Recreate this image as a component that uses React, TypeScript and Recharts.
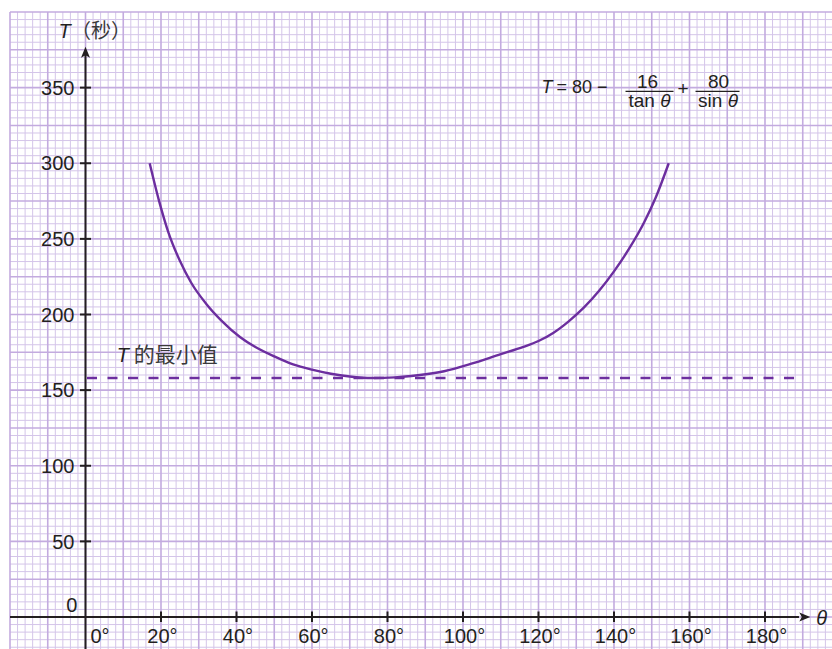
import { ComposedChart, Line, XAxis, YAxis, CartesianGrid, ReferenceLine, ReferenceDot } from "recharts";

// θ (degrees) and T (seconds)
const THETA = [17, 19.5, 22, 25, 28, 32, 36, 41, 45, 50, 55, 60, 65, 70, 76, 82, 88, 95, 102, 110, 116, 120, 124, 128, 132, 136, 140, 144, 148, 151, 154.5];
const T_VALUES = [300, 275, 254, 235.5, 221, 207, 196, 185, 178.5, 172.3, 167, 163.5, 160.8, 159, 158, 158.4, 159.8, 162.5, 167.3, 173.8, 178.6, 182.5, 188, 195.5, 204.5, 215.5, 228.5, 243.5, 261, 277, 300];
const T_MIN = 158;

const X_TICKS = [20, 40, 60, 80, 100, 120, 140, 160, 180];
const Y_TICKS = [50, 100, 150, 200, 250, 300, 350];

const X_DOMAIN: [number, number] = [-20, 197.75];
const Y_DOMAIN: [number, number] = [-21.16, 400];

const W = 832;
const H = 649;

const INK = "#231f20";
const PURPLE = "#6c2e9f";
const FONT = '"Liberation Sans", Arial, Helvetica, sans-serif';
const CJK = '"Noto Sans CJK TC", "Noto Sans CJK SC", sans-serif';

const range = (a: number, b: number, step: number) => {
  const out: number[] = [];
  for (let v = a; v <= b + 1e-9; v += step) out.push(v);
  return out;
};

const MINOR_X = range(-20, 196, 2).filter((v) => v % 10 !== 0);
const MAJOR_X = range(-20, 190, 10);
const MINOR_Y = range(-20, 400, 5).filter((v) => v % 25 !== 0);
const MAJOR_Y = range(0, 400, 25);

const data = THETA.map((theta, i) => ({ theta, T: T_VALUES[i] }));

const toX = (props: any, v: number) => {
  const s = props?.xAxis?.scale;
  if (typeof s === "function") {
    const r = s(v);
    if (Number.isFinite(r)) return r;
  }
  const o = props.offset;
  return o.left + ((v - X_DOMAIN[0]) / (X_DOMAIN[1] - X_DOMAIN[0])) * o.width;
};

const toY = (props: any, v: number) => {
  const s = props?.yAxis?.scale;
  if (typeof s === "function") {
    const r = s(v);
    if (Number.isFinite(r)) return r;
  }
  const o = props.offset;
  return o.top + ((Y_DOMAIN[1] - v) / (Y_DOMAIN[1] - Y_DOMAIN[0])) * o.height;
};

function YTick({ cx, cy, value }: any) {
  return (
    <g>
      <line x1={cx - 5.5} x2={cx + 5.5} y1={cy} y2={cy} stroke={INK} strokeWidth={2} />
      <text x={cx - 11} y={cy + 7.2} textAnchor="end" fontFamily={FONT} fontSize={20} fill={INK}>
        {value}
      </text>
    </g>
  );
}

function XTick({ cx, cy, value }: any) {
  return (
    <g>
      <line x1={cx} x2={cx} y1={cy - 5.5} y2={cy + 5} stroke={INK} strokeWidth={2} />
      <text x={cx + 1.5} y={cy + 26} textAnchor="middle" fontFamily={FONT} fontSize={20} fill={INK}>
        {value}°
      </text>
    </g>
  );
}

function Origin({ cx, cy }: any) {
  return (
    <g fontFamily={FONT} fontSize={20} fill={INK}>
      <text x={cx - 8} y={cy - 5} textAnchor="end">0</text>
      <text x={cx + 5} y={cy + 26}>0°</text>
    </g>
  );
}

function UpArrow({ cx, cy }: any) {
  return (
    <g>
      <path d={`M${cx},${cy} L${cx + 4.5},${cy + 11} L${cx},${cy + 8.5} L${cx - 4.5},${cy + 11} Z`} fill={INK} />
      <text x={cx - 27} y={cy - 9} fontFamily={FONT} fontStyle="italic" fontSize={20} fill={INK}>T</text>
      <text x={cx - 14.5} y={cy - 9} fontFamily={CJK} fontSize={20} fill="#3a3a3a">（秒）</text>
    </g>
  );
}

function RightArrow({ cx, cy }: any) {
  return (
    <g>
      <path d={`M${cx},${cy} L${cx - 11},${cy - 4.5} L${cx - 8.5},${cy} L${cx - 11},${cy + 4.5} Z`} fill={INK} />
      <text x={cx + 6} y={cy + 8} fontFamily={FONT} fontStyle="italic" fontSize={20} fill={INK}>θ</text>
    </g>
  );
}

function MinLabel({ cx, cy }: any) {
  return (
    <g>
      <text x={cx} y={cy} fontFamily={FONT} fontStyle="italic" fontSize={20} fill={INK}>T</text>
      <text x={cx + 17} y={cy} fontFamily={CJK} fontSize={21} fill="#3a3a3a">的最小值</text>
    </g>
  );
}

function Formula({ cx, cy }: any) {
  const f = { fontFamily: FONT, fill: INK };
  return (
    <g>
      <text x={cx} y={cy} {...f} fontSize={18} fontStyle="italic">T</text>
      <text x={cx + 15} y={cy} {...f} fontSize={18}>= 80 −</text>
      <line x1={cx + 84} x2={cx + 132} y1={cy - 2} y2={cy - 2} stroke={INK} strokeWidth={1.3} />
      <text x={cx + 106} y={cy - 5.5} {...f} fontSize={19} textAnchor="middle">16</text>
      <text x={cx + 108} y={cy + 13.5} {...f} fontSize={19} textAnchor="middle">
        tan <tspan fontStyle="italic">θ</tspan>
      </text>
      <text x={cx + 141.5} y={cy + 1.5} {...f} fontSize={19} textAnchor="middle">+</text>
      <line x1={cx + 154} x2={cx + 198} y1={cy - 2} y2={cy - 2} stroke={INK} strokeWidth={1.3} />
      <text x={cx + 177} y={cy - 5.5} {...f} fontSize={19} textAnchor="middle">80</text>
      <text x={cx + 176.5} y={cy + 13.5} {...f} fontSize={19} textAnchor="middle">
        sin <tspan fontStyle="italic">θ</tspan>
      </text>
    </g>
  );
}

export default function App() {
  return (
    <div style={{ position: "absolute", left: 0, top: 0, width: W, height: H, background: "#fff" }}>
      <ComposedChart width={W} height={H} data={data} margin={{ top: 12, right: 0, bottom: 0, left: 10 }}>
        <XAxis dataKey="theta" type="number" domain={X_DOMAIN} allowDataOverflow hide />
        <YAxis type="number" domain={Y_DOMAIN} allowDataOverflow hide />

        {/* graph paper: fine lines, then the heavier 10°/25 lines */}
        <CartesianGrid
          stroke="#d4c5e9"
          strokeWidth={1}
          horizontalCoordinatesGenerator={(p: any) => MINOR_Y.map((v) => toY(p, v))}
          verticalCoordinatesGenerator={(p: any) => MINOR_X.map((v) => toX(p, v))}
        />
        <CartesianGrid
          stroke="#c3abdf"
          strokeWidth={1.6}
          horizontalCoordinatesGenerator={(p: any) => MAJOR_Y.map((v) => toY(p, v))}
          verticalCoordinatesGenerator={(p: any) => MAJOR_X.map((v) => toX(p, v))}
        />

        {/* axes */}
        <ReferenceLine segment={[{ x: 0, y: Y_DOMAIN[0] }, { x: 0, y: 372 }]} stroke={INK} strokeWidth={2} ifOverflow="visible" />
        <ReferenceLine segment={[{ x: -20, y: 0 }, { x: 189, y: 0 }]} stroke={INK} strokeWidth={2} ifOverflow="visible" />
        <ReferenceDot x={0} y={377} ifOverflow="visible" shape={(p: any) => <UpArrow {...p} />} />
        <ReferenceDot x={192} y={0} ifOverflow="visible" shape={(p: any) => <RightArrow {...p} />} />
        <ReferenceDot x={0} y={0} ifOverflow="visible" shape={(p: any) => <Origin {...p} />} />
        {Y_TICKS.map((v) => (
          <ReferenceDot key={`y${v}`} x={0} y={v} ifOverflow="visible" shape={(p: any) => <YTick {...p} value={v} />} />
        ))}
        {X_TICKS.map((v) => (
          <ReferenceDot key={`x${v}`} x={v} y={0} ifOverflow="visible" shape={(p: any) => <XTick {...p} value={v} />} />
        ))}

        {/* minimum of T */}
        <ReferenceLine
          segment={[{ x: 0.4, y: T_MIN }, { x: 187.8, y: T_MIN }]}
          stroke={PURPLE}
          strokeWidth={2.4}
          strokeDasharray="10 10.5"
          ifOverflow="visible"
        />
        <ReferenceDot x={8.3} y={168.6} ifOverflow="visible" shape={(p: any) => <MinLabel {...p} />} />
        <ReferenceDot x={120.8} y={346.2} ifOverflow="visible" shape={(p: any) => <Formula {...p} />} />

        <Line
          dataKey="T"
          type="monotone"
          stroke={PURPLE}
          strokeWidth={2.4}
          dot={false}
          activeDot={false}
          isAnimationActive={false}
        />
      </ComposedChart>
    </div>
  );
}
